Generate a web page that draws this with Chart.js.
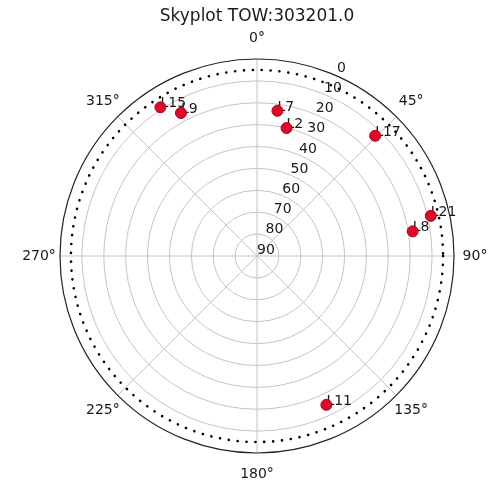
<!DOCTYPE html>
<html>
<head>
<meta charset="utf-8">
<script src="https://cdn.jsdelivr.net/npm/chart.js@4"></script>
<style>
  html, body { margin: 0; padding: 0; background: #fff; }
  #wrap { width: 491px; height: 483px; position: relative; }
</style>
</head>
<body>
<div id="wrap"><canvas id="sky"></canvas></div>
<script>
"use strict";

// ---------- Data ----------
const titleText = "Skyplot TOW:303201.0";
const satNames = ["L15", "L9", "L7", "L2", "L17", "L21", "L8", "L11"];
const azimuthDeg = [327, 332, 8, 13, 44.5, 77, 81, 155];
const elevationDeg = [9, 16, 23, 30, 13, 8.5, 18, 15];
const radialTicks = [0, 10, 20, 30, 40, 50, 60, 70, 80, 90];
const angleTicks = [0, 45, 90, 135, 180, 225, 270, 315];
const elevationMask = 5;

const FONT = "'DejaVu Sans', sans-serif";

// polar (az, el) -> cartesian in "zenith distance" units
function toXY(az, el) {
  const r = 90 - el;
  const a = az * Math.PI / 180;
  return { x: r * Math.sin(a), y: r * Math.cos(a) };
}

const points = azimuthDeg.map((az, i) => toXY(az, elevationDeg[i]));

// ---------- Polar grid plugin ----------
const polarGrid = {
  id: "polarGrid",
  beforeDatasetsDraw(chart) {
    const ctx = chart.ctx;
    const xs = chart.scales.x;
    const ys = chart.scales.y;
    const cx = xs.getPixelForValue(0);
    const cy = ys.getPixelForValue(0);
    const rPix = v => xs.getPixelForValue(90 - v) - cx;
    const R = rPix(0);

    ctx.save();

    // rings
    ctx.strokeStyle = "#c4c4c4";
    ctx.lineWidth = 1;
    for (const v of radialTicks) {
      if (v === 0 || v === 90) continue;
      ctx.beginPath();
      ctx.arc(cx, cy, rPix(v), 0, Math.PI * 2);
      ctx.stroke();
    }

    // spokes
    for (const a of angleTicks) {
      const t = a * Math.PI / 180;
      ctx.beginPath();
      ctx.moveTo(cx, cy);
      ctx.lineTo(cx + R * Math.sin(t), cy - R * Math.cos(t));
      ctx.stroke();
    }

    // outer spine
    ctx.strokeStyle = "#222";
    ctx.lineWidth = 1.2;
    ctx.beginPath();
    ctx.arc(cx, cy, R, 0, Math.PI * 2);
    ctx.stroke();

    // elevation mask (dotted)
    ctx.strokeStyle = "#000";
    ctx.lineWidth = 2.6;
    ctx.lineCap = "round";
    ctx.setLineDash([0.1, 8.8]);
    ctx.beginPath();
    ctx.arc(cx, cy, rPix(elevationMask), 0, Math.PI * 2);
    ctx.stroke();
    ctx.setLineDash([]);

    // radial tick labels along 22.5 deg
    ctx.fillStyle = "#1a1a1a";
    ctx.font = "14px " + FONT;
    ctx.textAlign = "center";
    ctx.textBaseline = "middle";
    const rl = 22.5 * Math.PI / 180;
    for (const v of radialTicks) {
      const r = rPix(v);
      ctx.fillText(String(v), cx + r * Math.sin(rl) + 9, cy - r * Math.cos(rl) - 6);
    }

    // angle labels
    for (const a of angleTicks) {
      const t = a * Math.PI / 180;
      const r = R + 21;
      ctx.fillText(a + "\u00b0", cx + r * Math.sin(t), cy - r * Math.cos(t));
    }

    // satellite labels (under the markers)
    const meta = chart.getDatasetMeta(0);
    ctx.textAlign = "left";
    ctx.textBaseline = "alphabetic";
    meta.data.forEach((pt, i) => {
      ctx.fillText(satNames[i], pt.x, pt.y);
    });

    // title
    ctx.font = "17px " + FONT;
    ctx.textAlign = "center";
    ctx.textBaseline = "middle";
    ctx.fillText(titleText, cx, 17);

    ctx.restore();
  }
};

// ---------- Chart ----------
new Chart(document.getElementById("sky"), {
  type: "scatter",
  data: {
    datasets: [{
      label: "Satellites",
      data: points,
      backgroundColor: "#dc0a2a",
      borderColor: "#b00018",
      borderWidth: 1,
      pointRadius: 5.5,
      pointHoverRadius: 5.5
    }]
  },
  options: {
    responsive: true,
    maintainAspectRatio: false,
    animation: false,
    layout: { padding: { left: 60, right: 37, top: 59, bottom: 30 } },
    scales: {
      x: { type: "linear", min: -90, max: 90, display: false },
      y: { type: "linear", min: -90, max: 90, display: false }
    },
    plugins: {
      legend: { display: false },
      tooltip: { enabled: false }
    }
  },
  plugins: [polarGrid]
});
</script>
</body>
</html>
